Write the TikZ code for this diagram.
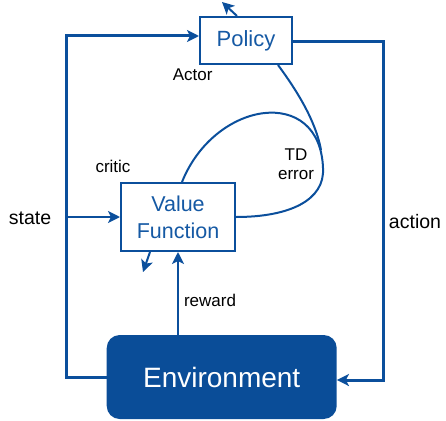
\documentclass[tikz,border=0pt]{standalone}
\usepackage{fontspec}
\setmainfont{Liberation Sans}
\usetikzlibrary{arrows.meta}
\definecolor{lnblue}{HTML}{0B4F9C}
\definecolor{txblue}{HTML}{1559A4}
\definecolor{envblue}{HTML}{0A4D98}
\begin{document}
\begin{tikzpicture}[x=1pt,y=-1pt,
  conn/.style={draw=lnblue,line width=2pt},
  arr/.style={conn,-{Stealth[length=12pt,width=12pt,inset=3pt]}},
  thick loop/.style={line width=3pt},
  box/.style={draw=lnblue,line width=2pt,fill=white,text=txblue,align=center,inner sep=0pt},
  lbl/.style={text=black,font=\fontsize{17}{20}\selectfont,inner sep=0pt},
  biglbl/.style={text=black,font=\fontsize{19.5}{23}\selectfont,inner sep=0pt}]
\useasboundingbox (0,0) rectangle (446,420);
\node[box,minimum width=92pt,minimum height=47pt,font=\fontsize{22}{26}\selectfont] (pol) at (246,40.5) {Policy};
\node[box,minimum width=114pt,minimum height=68pt,font=\fontsize{21.5}{27}\selectfont] (vf) at (178,217) {Value\\Function};
\node[fill=envblue,rounded corners=13pt,minimum width=230pt,minimum height=84pt,text=white,inner sep=0pt,font=\fontsize{28}{32}\selectfont] (env) at (221.7,377) {Environment};
% coordinates
\coordinate (lt) at (66,36);
\coordinate (lb) at (66,377);
\coordinate (sb) at (66,217);
\coordinate (rt) at (383,41.5);
\coordinate (rb) at (383,380);
\coordinate (pa) at (222,2);
\coordinate (va) at (143,272);
% loops
\draw[arr,thick loop] (env.west) -- (lb) -- (lt) -- ([yshift=4.5pt]pol.west);
\draw[arr] (sb) -- (vf.west);
\draw[arr,thick loop] (pol.east |- rt) -- (rt) -- (rb) -- ([yshift=-3pt]env.east);
\draw[arr] (vf.south |- env.north) -- (vf.south);
\draw[arr] ([xshift=-28pt]vf.south) -- (va);
\draw[arr] ([xshift=-9pt]pol.north) -- (pa);
% curves
\draw[conn] ([xshift=4pt]vf.north) .. controls (215,100) and (320,85) .. (323,168)
   .. controls (325,200) and (290,217) .. (vf.east);
\draw[conn] ([xshift=32pt]pol.south) .. controls (298,92) and (316,122) .. (321,150);
% labels
\node[lbl] (actor) at (192.7,75) {Actor};
\node[lbl] (critic) at (113,166.7) {critic};
\node[lbl,align=center] (td) at (296,164.5) {TD\\[-1pt]error};
\node[lbl] (rew) at (210,300) {reward};
\node[biglbl] (st) at (30,218) {state};
\node[biglbl] (act) at (415,221.7) {action};
\end{tikzpicture}
\end{document}
